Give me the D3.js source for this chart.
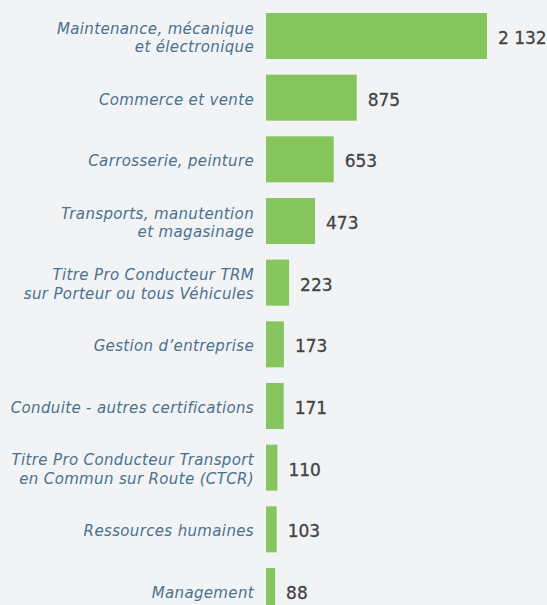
<!DOCTYPE html>
<html>
<head>
<meta charset="utf-8">
<script src="https://cdn.jsdelivr.net/npm/d3@7"></script>
<style>
	html, body { margin: 0; padding: 0; background: #f2f3f5; }
	svg { display: block; }
</style>
</head>
<body>
<div class="chart"></div>
<script>
	// données du graphique
	const categories = [
		['Maintenance, mécanique', 'et électronique'],
		['Commerce et vente'],
		['Carrosserie, peinture'],
		['Transports, manutention', 'et magasinage'],
		['Titre Pro Conducteur TRM', 'sur Porteur ou tous Véhicules'],
		['Gestion d’entreprise'],
		['Conduite - autres certifications'],
		['Titre Pro Conducteur Transport', 'en Commun sur Route (CTCR)'],
		['Ressources humaines'],
		['Management'],
	];
	const values = [2132, 875, 653, 473, 223, 173, 171, 110, 103, 88];
	const valueLabels = ['2 132', '875', '653', '473', '223', '173', '171', '110', '103', '88'];

	const width = 547;
	const height = 605;
	const barColor = '#87c65f';
	const labelColor = '#4a7190';
	const valueColor = '#434343';

	const svg = d3.select('.chart').append('svg').attr('width', width).attr('height', height);

	const idx = d3.range(values.length);

	const x = d3.scaleLinear().domain([0, d3.max(values)]).range([266, 487]);
	const y = d3.scaleBand().domain(idx).range([13, 614]).paddingInner(0.254).paddingOuter(0);

	svg
		.selectAll('.bar')
		.data(idx)
		.enter()
		.append('rect')
		.attr('class', 'bar')
		.attr('x', x(0))
		.attr('y', i => y(i))
		.attr('width', i => x(values[i]) - x(0))
		.attr('height', y.bandwidth())
		.attr('fill', barColor);

	svg
		.selectAll('.value')
		.data(idx)
		.enter()
		.append('text')
		.attr('class', 'value')
		.attr('x', i => x(values[i]) + 11)
		.attr('y', i => y(i) + y.bandwidth() / 2 + 8)
		.style('font-family', '"DejaVu Sans", sans-serif')
		.style('font-size', '17px')
		.style('fill', valueColor)
		.style('stroke', valueColor)
		.style('stroke-width', 0.3)
		.text(i => valueLabels[i]);

	svg
		.selectAll('.label')
		.data(idx)
		.enter()
		.append('text')
		.attr('class', 'label')
		.attr('text-anchor', 'end')
		.style('font-family', '"DejaVu Sans", sans-serif')
		.style('font-size', '15px')
		.style('letter-spacing', '0.35px')
		.style('font-style', 'italic')
		.style('fill', labelColor)
		.each(function (i) {
			const lines = categories[i];
			const cy = y(i) + y.bandwidth() / 2;
			const startY = cy + 7 - ((lines.length - 1) * 18.5) / 2;
			lines.forEach((line, j) => {
				d3.select(this)
					.append('tspan')
					.attr('x', 254)
					.attr('y', startY + j * 18.5)
					.text(line);
			});
		});
</script>
</body>
</html>
